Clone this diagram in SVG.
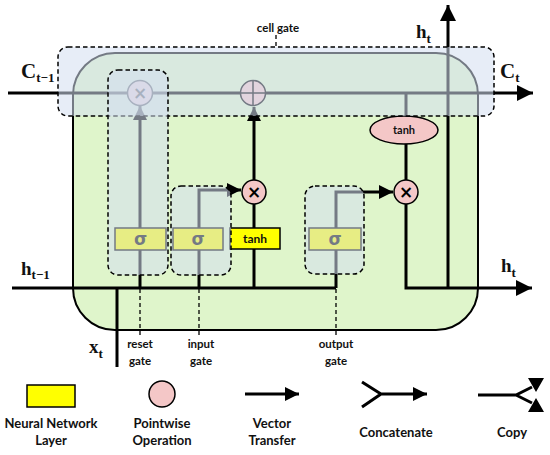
<svg xmlns="http://www.w3.org/2000/svg" width="550" height="455" viewBox="0 0 550 455">
<style>
.ln{fill:none;stroke:#000;stroke-width:3}
.dash{fill:none;stroke:#000;stroke-width:1.3;stroke-dasharray:4 3}
.ov{fill:rgb(212,222,240);fill-opacity:0.55;stroke:#000;stroke-width:1.5;stroke-dasharray:4.5 3}
.nn{fill:#ffff00;stroke:#000;stroke-width:1.5}
.pw{fill:#f4c7c7;stroke:#000;stroke-width:1.5}
.sym{font-family:"DejaVu Sans",sans-serif;font-weight:bold;font-size:17px;text-anchor:middle}
.lab{font-family:Lato,"Liberation Sans",sans-serif;font-weight:bold;text-anchor:middle;fill:#111}
.var{font-family:"Liberation Serif",serif;font-weight:bold;fill:#111}
</style>
<defs>
<marker id="arr" viewBox="0 0 10 10" refX="10" refY="5" markerUnits="userSpaceOnUse" markerWidth="16" markerHeight="14" orient="auto"><path d="M0,0 L10,5 L0,10 z" fill="#000"/></marker>
<marker id="arrB" viewBox="0 0 10 10" refX="10" refY="5" markerUnits="userSpaceOnUse" markerWidth="18" markerHeight="16" orient="auto"><path d="M0,0 L10,5 L0,10 z" fill="#000"/></marker>
</defs>

<g id="lstm-cell">
<rect x="73" y="53" width="405" height="277" rx="42" ry="42" fill="#dff5cb" stroke="#000" stroke-width="2"/>
</g>

<g id="connectors">
<path class="ln" d="M8,93 H533" marker-end="url(#arrB)"/>
<path class="ln" d="M12,288 H336"/>
<path class="ln" d="M117,288 V367"/>
<path class="ln" d="M140,288 V106" marker-end="url(#arr)"/>
<path class="ln" d="M199,288 V190 H241" marker-end="url(#arr)"/>
<path class="ln" d="M254,288 V204"/>
<path class="ln" d="M254,180 V107" marker-end="url(#arr)"/>
<path class="ln" d="M336,288 V192 H393" marker-end="url(#arr)"/>
<path class="ln" d="M406,204 V288 H532" marker-end="url(#arrB)"/>
<path class="ln" d="M406,93 V116 M406,144 V180"/>
<path class="ln" d="M448,288 V5" marker-end="url(#arrB)"/>
<path class="dash" d="M140,275 V336 M199,275 V336 M336,275 V336 M276,35 V47"/>
</g>

<g id="reset-mult"><circle class="pw" cx="140" cy="93" r="12.5"/><text class="sym" x="140" y="99">×</text></g>
<g id="cell-add"><circle class="pw" cx="253" cy="93" r="12.5"/><path d="M253,80.5 V105.5 M240.5,93 H265.5" stroke="#000" stroke-width="1.5"/></g>
<g id="input-mult"><circle class="pw" cx="254" cy="192" r="12"/><text class="sym" x="254" y="198">×</text></g>
<g id="output-mult"><circle class="pw" cx="406" cy="192" r="12"/><text class="sym" x="406" y="198">×</text></g>
<g id="tanh-out"><ellipse class="pw" cx="404" cy="130" rx="34" ry="14"/><text class="lab" x="404" y="134" font-size="11">tanh</text></g>
<g id="sigma-reset"><rect class="nn" x="115" y="228" width="51" height="22"/><text class="sym" x="140.5" y="245" font-size="16">σ</text></g>
<g id="sigma-input"><rect class="nn" x="173" y="228" width="50" height="22"/><text class="sym" x="198" y="245" font-size="16">σ</text></g>
<g id="tanh-layer"><rect class="nn" x="230" y="228" width="50" height="21"/><text class="lab" x="255" y="243" font-size="12">tanh</text></g>
<g id="sigma-output"><rect class="nn" x="309" y="228" width="52" height="22"/><text class="sym" x="335" y="245" font-size="16">σ</text></g>

<g id="cell-gate"><rect class="ov" x="58" y="47" width="436" height="69" rx="10"/></g>
<g id="reset-gate"><rect class="ov" x="108" y="70" width="60" height="205" rx="10"/></g>
<g id="input-gate"><rect class="ov" x="171" y="186" width="60" height="89" rx="10"/></g>
<g id="output-gate"><rect class="ov" x="305" y="186" width="59" height="88" rx="10"/></g>

<g id="labels">
<text class="lab" x="278" y="32" font-size="11.5">cell gate</text>
<text class="var" x="21" y="78" font-size="21">C<tspan font-size="13" dy="4">t−1</tspan></text>
<text class="var" x="500" y="78" font-size="21">C<tspan font-size="13" dy="4">t</tspan></text>
<text class="var" x="416" y="38" font-size="19">h<tspan font-size="13" dy="5">t</tspan></text>
<text class="var" x="21" y="275" font-size="19">h<tspan font-size="13" dy="4">t−1</tspan></text>
<text class="var" x="501" y="272" font-size="19">h<tspan font-size="13" dy="5">t</tspan></text>
<text class="var" x="89" y="353" font-size="19">x<tspan font-size="13" dy="5">t</tspan></text>
<text class="lab" font-size="11.5"><tspan x="140" y="348">reset</tspan><tspan x="140" y="365">gate</tspan></text>
<text class="lab" font-size="11.5"><tspan x="201" y="348">input</tspan><tspan x="201" y="365">gate</tspan></text>
<text class="lab" font-size="11.5"><tspan x="336" y="348">output</tspan><tspan x="336" y="365">gate</tspan></text>
</g>

<g id="legend">
<g id="legend-nn"><rect class="nn" x="27" y="385" width="48" height="22"/><text class="lab" font-size="13"><tspan x="51" y="428">Neural Network</tspan><tspan x="51" y="445">Layer</tspan></text></g>
<g id="legend-pw"><circle class="pw" cx="162" cy="394" r="13"/><text class="lab" font-size="13"><tspan x="162" y="428">Pointwise</tspan><tspan x="162" y="445">Operation</tspan></text></g>
<g id="legend-vec"><path class="ln" d="M245,394 H299" marker-end="url(#arr)"/><text class="lab" font-size="13"><tspan x="272" y="428">Vector</tspan><tspan x="272" y="445">Transfer</tspan></text></g>
<g id="legend-cat"><path class="ln" d="M362,382 L381,394 L362,407 M381,394 H427" marker-end="url(#arr)"/><text class="lab" font-size="13" x="396" y="437">Concatenate</text></g>
<g id="legend-copy"><path class="ln" d="M478,395 H516 L532,387 M516,395 L532,403"/><path d="M528,378 H544 L536,392 z M528,412 H544 L536,398 z" fill="#000"/><text class="lab" font-size="13" x="512" y="437">Copy</text></g>
</g>
</svg>
